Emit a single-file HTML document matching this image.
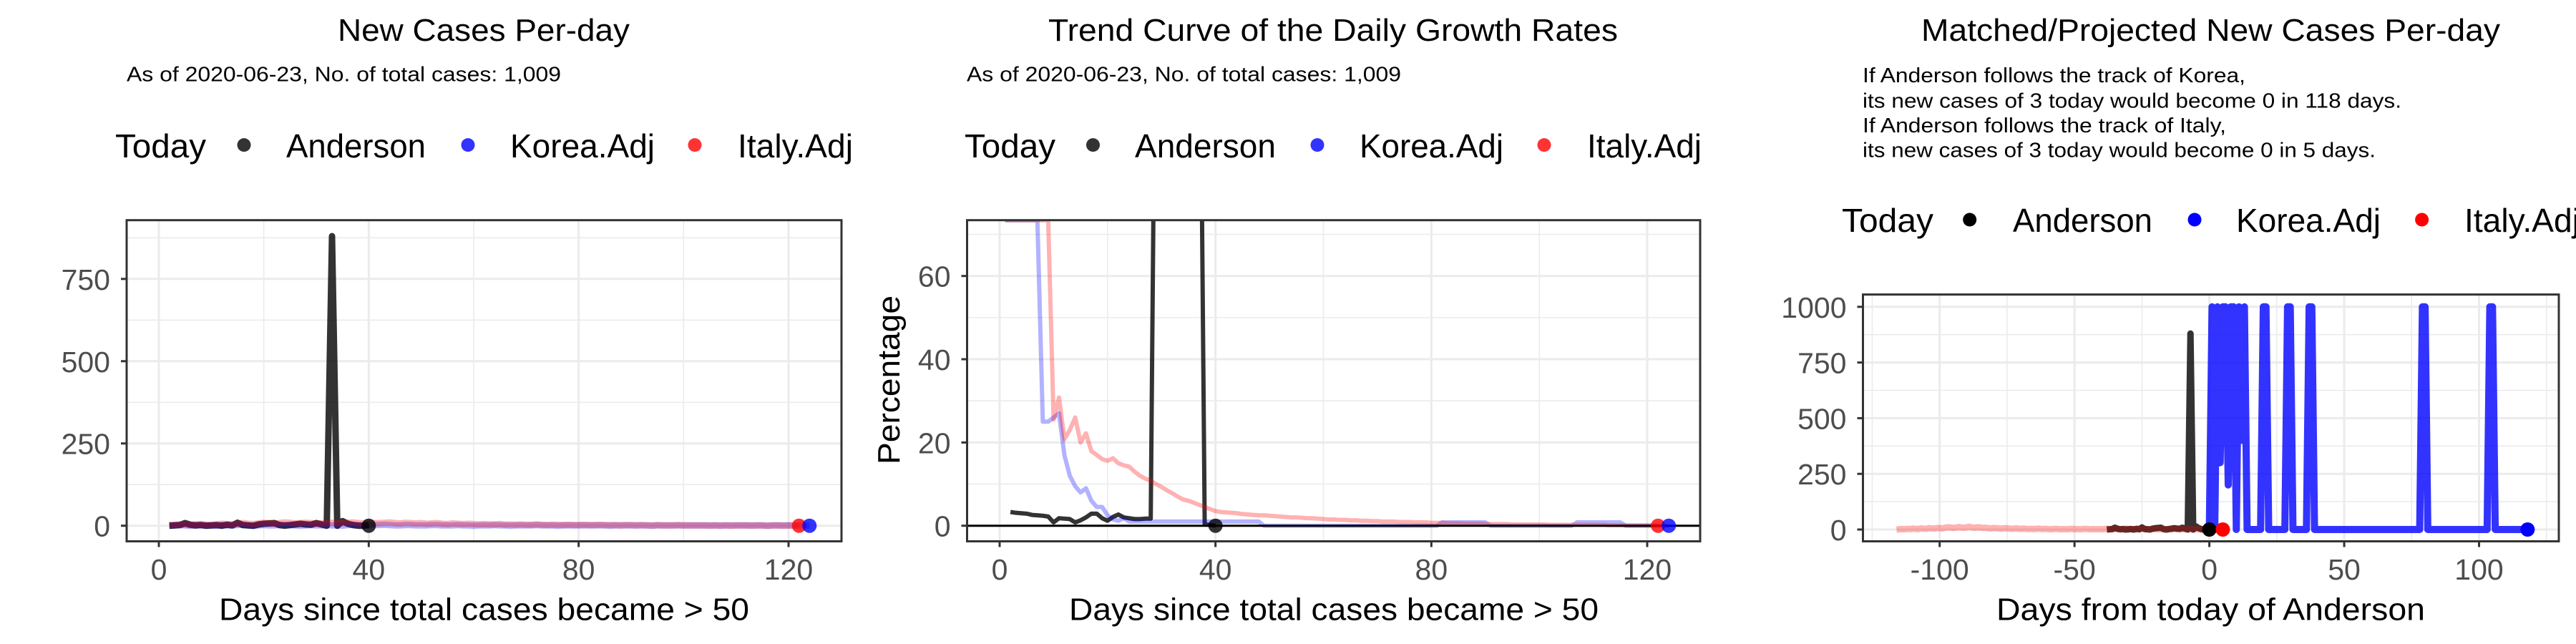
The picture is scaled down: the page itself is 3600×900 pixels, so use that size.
<!DOCTYPE html>
<html><head><meta charset="utf-8"><style>
html,body{margin:0;padding:0;background:#fff;}
svg{display:block;font-family:"Liberation Sans",Arial,sans-serif;}
</style></head><body>
<svg id="chart" width="3600" height="900" viewBox="0 0 3600 900" xmlns="http://www.w3.org/2000/svg">
<defs>
<clipPath id="clip1"><rect x="177" y="307.7" width="999" height="448.8"/></clipPath>
<clipPath id="clip2"><rect x="1351.5" y="307.7" width="1024.5" height="448.8"/></clipPath>
<clipPath id="clip3"><rect x="2603.5" y="411.6" width="972.5" height="344.9"/></clipPath>
</defs>
<rect x="0" y="0" width="3600" height="900" fill="#fff"/>

<g>
<text x="676" y="57" font-size="44" text-anchor="middle" textLength="408" lengthAdjust="spacingAndGlyphs">New Cases Per-day</text>
<text x="177" y="113.6" font-size="29" textLength="607" lengthAdjust="spacingAndGlyphs">As of 2020-06-23, No. of total cases: 1,009</text>
<g>
<text x="161" y="220" font-size="46" textLength="127" lengthAdjust="spacingAndGlyphs">Today</text>
<circle cx="341" cy="202.6" r="9.5" fill="rgba(0,0,0,0.8)"/>
<text x="400" y="220" font-size="46" textLength="195" lengthAdjust="spacingAndGlyphs">Anderson</text>
<circle cx="654" cy="202.6" r="9.5" fill="rgba(0,0,255,0.8)"/>
<text x="713" y="220" font-size="46" textLength="202" lengthAdjust="spacingAndGlyphs">Korea.Adj</text>
<circle cx="971" cy="202.6" r="9.5" fill="rgba(255,0,0,0.8)"/>
<text x="1031" y="220" font-size="46" textLength="161" lengthAdjust="spacingAndGlyphs">Italy.Adj</text>
</g>
<text x="676.5" y="866.7" font-size="44" text-anchor="middle" textLength="741" lengthAdjust="spacingAndGlyphs">Days since total cases became &gt; 50</text>
</g>

<g>
<text x="1863" y="57" font-size="44" text-anchor="middle" textLength="796" lengthAdjust="spacingAndGlyphs">Trend Curve of the Daily Growth Rates</text>
<text x="1351" y="113.6" font-size="29" textLength="607" lengthAdjust="spacingAndGlyphs">As of 2020-06-23, No. of total cases: 1,009</text>
<g>
<text x="1348" y="220" font-size="46" textLength="127" lengthAdjust="spacingAndGlyphs">Today</text>
<circle cx="1527.5" cy="202.6" r="9.5" fill="rgba(0,0,0,0.8)"/>
<text x="1586" y="220" font-size="46" textLength="197" lengthAdjust="spacingAndGlyphs">Anderson</text>
<circle cx="1841" cy="202.6" r="9.5" fill="rgba(0,0,255,0.8)"/>
<text x="1900" y="220" font-size="46" textLength="201" lengthAdjust="spacingAndGlyphs">Korea.Adj</text>
<circle cx="2158" cy="202.6" r="9.5" fill="rgba(255,0,0,0.8)"/>
<text x="2218" y="220" font-size="46" textLength="160" lengthAdjust="spacingAndGlyphs">Italy.Adj</text>
</g>
<text transform="translate(1257,531) rotate(-90)" font-size="44" text-anchor="middle" textLength="236" lengthAdjust="spacingAndGlyphs">Percentage</text>
<text x="1864" y="866.7" font-size="44" text-anchor="middle" textLength="740" lengthAdjust="spacingAndGlyphs">Days since total cases became &gt; 50</text>
</g>

<g>
<text x="3089.5" y="57" font-size="44" text-anchor="middle" textLength="809" lengthAdjust="spacingAndGlyphs">Matched/Projected New Cases Per-day</text>
<text x="2603" y="114.8" font-size="29" textLength="535" lengthAdjust="spacingAndGlyphs">If Anderson follows the track of Korea,</text>
<text x="2603" y="150.4" font-size="29" textLength="753" lengthAdjust="spacingAndGlyphs">its new cases of 3 today would become 0 in 118 days.</text>
<text x="2603" y="184.8" font-size="29" textLength="508" lengthAdjust="spacingAndGlyphs">If Anderson follows the track of Italy,</text>
<text x="2603" y="219.3" font-size="29" textLength="717" lengthAdjust="spacingAndGlyphs">its new cases of 3 today would become 0 in 5 days.</text>
<g>
<text x="2574" y="324" font-size="46" textLength="128" lengthAdjust="spacingAndGlyphs">Today</text>
<circle cx="2752.7" cy="307" r="9.5" fill="#000"/>
<text x="2813" y="324" font-size="46" textLength="195" lengthAdjust="spacingAndGlyphs">Anderson</text>
<circle cx="3067" cy="307" r="9.5" fill="#00f"/>
<text x="3125" y="324" font-size="46" textLength="202" lengthAdjust="spacingAndGlyphs">Korea.Adj</text>
<circle cx="3384.6" cy="307" r="9.5" fill="#f00"/>
<text x="3444" y="324" font-size="46" textLength="161" lengthAdjust="spacingAndGlyphs">Italy.Adj</text>
</g>
<text x="3089.5" y="866.7" font-size="44" text-anchor="middle" textLength="599" lengthAdjust="spacingAndGlyphs">Days from today of Anderson</text>
</g>
</svg>
<script>
// ---------- Panel 1 data: new cases per day ----------
const p1AndersonStartDay = 2;
const p1AndersonCases = [0,1,2,8,3,1,2,0,1,2,0,3,1,9,2,1,0,4,6,7,8,2,0,2,4,6,4,3,8,4,0,880,0,14,6,2,0,0,3];
const p1KoreaStartDay = 2;
const p1KoreaCases = [1,1,2,1,0,1,2,1,1,0,2,1,1,2,3,1,0,1,2,1,1,2,3,2,1,0,1,2,1,1,2,1,1,0,2,3,2,1,1,2,
 2,3,2,1,1,2,2,1,1,1,2,2,1,1,1,2,1,1,0,1,
 1,1,2,1,1,0,1,1,1,1,2,1,1,1,0,1,1,1,1,1,
 1,1,1,1,0,1,1,1,1,1,1,1,0,1,1,1,1,1,1,1,
 1,1,1,1,1,0,1,1,1,1,1,1,1,1,0,1,1,1,1,1,1,1,0];
const p1ItalyStartDay = 2;
const p1ItalyCases = [2,3,4,3,2,4,5,3,2,4,6,5,4,6,8,6,5,7,9,8,6,8,10,9,7,8,9,8,6,7,8,9,7,8,9,10,8,7,9,8,
 8,9,10,8,7,9,8,7,8,6,7,8,6,5,7,6,5,6,5,4,
 5,4,4,5,3,4,3,4,3,3,4,3,2,3,3,2,3,2,2,3,
 2,2,3,2,2,2,1,2,2,1,2,1,1,2,1,1,1,2,1,1,
 1,1,1,0,1,1,1,0,1,1,1,0,1,1,0,1,1,0,1,0,0];
const p1XTicks = [0,40,80,120];
const p1XMinor = [20,60,100];
const p1YTicks = [0,250,500,750];
const p1YMinor = [125,375,625,875];
const p1TodayDays = [40,122,124];

// ---------- Panel 2 data: daily growth rates (%) ----------
const p2AndersonStartDay = 2;
const p2AndersonRate = [3.3,3.1,3.0,2.9,2.6,2.5,2.4,2.2,0.8,1.8,1.7,1.6,0.8,1.3,2.0,2.9,2.9,1.8,1.2,2.1,2.7,2.0,1.8,1.6,1.6,1.7,1.7,
 150,150,150,150,150,150,150,150,150,0.3,0.2,0];
const p2KoreaStartDay = 1;
const p2KoreaRate = [100,100,100,100,100,100,100,25,25,26,27,17,12,9.5,8,9,6,4.5,4.5,2.5,1.5,1.2,1.8,1,
 1,1,1,1,1,1,1,1,1,1,1,1,1,1,1,1,1,1,1,1,1,1,1,1,
 0,0,0,0,0,0,0,0,0,0,0,0,0,0,0,0,0,0,0,0,0,0,0,0,0,0,0,0,0,0,0,0,0,
 0.8,0.8,0.8,0.8,0.8,0.8,0.8,0.8,0.8,
 0,0,0,0,0,0,0,0,0,0,0,0,0,0,0,0,
 0.8,0.8,0.8,0.8,0.8,0.8,0.8,0.8,0.8,
 0,0,0,0,0,0,0,0,0];
const p2ItalyStartDay = 1;
const p2ItalyRate = [100,100,100,100,100,100,100,100,100,
 25.5,30.8,20.8,23,26,20,22.2,17.9,17,16,15.6,16.2,15,14.5,14.2,13,12,11.3,10.8,10,9.3,8.5,7.8,7,6.3,6,5.5,5,4.5,4,3.5,
 3.3,3.2,3.1,3,2.8,2.7,2.6,2.5,2.5,2.4,2.3,2.2,2.1,2,2,1.9,1.8,1.8,1.7,1.6,
 1.5,1.5,1.4,1.4,1.3,1.3,1.2,1.2,1.1,1.1,
 1,1,1,0.9,0.9,0.9,0.8,0.8,0.8,0.7,
 0.7,0.7,0.6,0.6,0.6,0.5,0.5,0.5,0.5,0.4,
 0.4,0.4,0.4,0.4,0.3,0.3,0.3,0.3,0.3,0.3,
 0.3,0.2,0.2,0.2,0.2,0.2,0.2,0.2,0.2,0.2,
 0.2,0.2,0.1,0.1,0.1,0.1,0.1,0.1,0.1,0.1,0.1,0.1];
const p2XTicks = [0,40,80,120];
const p2XMinor = [20,60,100];
const p2YTicks = [0,20,40,60];
const p2YMinor = [10,30,50,70];
const p2TodayDays = [40,122,124];

// ---------- Panel 3 data: matched / projected ----------
const p3AndersonOffset = -40;
const p3ItalyStartDay = -116;
const p3ItalyCases = [0,1,2,1,3,2,4,3,2,5,4,3,6,5,4,7,6,5,8,10,9,7,8,11,9,8,10,12,9,8,
 10,9,7,8,6,5,7,6,5,4,6,5,4,3,5,4,3,4,3,2,
 3,2,3,4,2,3,2,1,2,3,2,1,2,1,2,3,1,2,1,2,
 3,2,1,2,1,2,1,2,
 3,2,1,2,3,1,2,4,3,2,1,3,2,4,3,2,1,3,2,1,
 2,3,1,2,1,3,2,1,2,1,2,1,1,2,1,0,1,1,0,
 1,0,1,0,0];
const p3KoreaStartDay = 0;
const p3KoreaCases = [0,1000,0,1000,300,1000,1000,200,1000,1000,
 0,1000,400,1000,0,0,0,0,0,0,
 1000,1000,0,0,0,0,0,0,0,1000,
 1000,0,0,0,0,0,0,1000,1000,0,
 0,0,0,0,0,0,0,0,0,0,
 0,0,0,0,0,0,0,0,0,0,
 0,0,0,0,0,0,0,0,0,0,
 0,0,0,0,0,0,0,0,0,1000,
 1000,0,0,0,0,0,0,0,0,0,
 0,0,0,0,0,0,0,0,0,0,
 0,0,0,0,1000,1000,0,0,0,0,
 0,0,0,0,0,0,0,0,0];
const p3XTicks = [-100,-50,0,50,100];
const p3XMinor = [-125,-75,-25,25,75,125];
const p3YTicks = [0,250,500,750,1000];
const p3YMinor = [125,375,625,875];
const p3TodayDays = [0,5,118];

// ---------- helpers ----------
const NS = 'http://www.w3.org/2000/svg';
const svg = document.getElementById('chart');
function lin(d0, d1, r0, r1) { return v => r0 + (v - d0) * (r1 - r0) / (d1 - d0); }
function mk(tag, attrs, parent) {
  const e = document.createElementNS(NS, tag);
  for (const k in attrs) e.setAttribute(k, attrs[k]);
  (parent || svg).appendChild(e);
  return e;
}

function drawFrame(P, name) {
  const g = mk('g', {});
  
  
  P.yMinor.forEach(v => {
    const y = P.sy(v);
    if (y < P.top || y > P.bottom) return;
    const l = mk('line', {x1: P.left, x2: P.right, y1: y, y2: y, stroke: '#ebebeb', 'stroke-width': 1.6}, g);
    
    
  });
  P.xMinor.forEach(v => {
    const x = P.sx(v);
    if (x < P.left || x > P.right) return;
    const l = mk('line', {x1: x, x2: x, y1: P.top, y2: P.bottom, stroke: '#ebebeb', 'stroke-width': 1.6}, g);
    
    
  });
  P.yTicks.forEach(v => {
    const y = P.sy(v);
    const l = mk('line', {x1: P.left, x2: P.right, y1: y, y2: y, stroke: '#ebebeb', 'stroke-width': 3}, g);
    
    
    const t = mk('line', {x1: P.left - 8, x2: P.left, y1: y, y2: y, stroke: '#333', 'stroke-width': 3}, g);
    
    
    const lb = mk('text', {x: P.left - 23, y: y + 15, 'font-size': 41, fill: '#4d4d4d', 'text-anchor': 'end'}, g);
    
    
    lb.textContent = String(v);
  });
  P.xTicks.forEach(v => {
    const x = P.sx(v);
    const l = mk('line', {x1: x, x2: x, y1: P.top, y2: P.bottom, stroke: '#ebebeb', 'stroke-width': 3}, g);
    
    
    const t = mk('line', {x1: x, x2: x, y1: P.bottom, y2: P.bottom + 8, stroke: '#333', 'stroke-width': 3}, g);
    
    
    const lb = mk('text', {x: x, y: 810, 'font-size': 41, fill: '#4d4d4d', 'text-anchor': 'middle'}, g);
    
    
    lb.textContent = String(v);
  });
}
function drawBorder(P, name) {
  const b = mk('rect', {x: P.left, y: P.top, width: P.right - P.left, height: P.bottom - P.top, fill: 'none', stroke: '#333', 'stroke-width': 3});
  
  
}
function drawLine(P, startDay, values, color, width, name, noClamp) {
  const hi = noClamp ? 1e9 : P.ymax;
  const pts = values.map((v, i) => {
    const c = Math.max(P.ymin, Math.min(hi, v));
    return P.sx(startDay + i).toFixed(2) + ',' + P.sy(c).toFixed(2);
  }).join(' ');
  const pl = mk('polyline', {points: pts, fill: 'none', stroke: color, 'stroke-width': width, 'stroke-linejoin': 'round', 'clip-path': 'url(#' + P.clip + ')'});
  
  
}
function valueAt(startDay, values, day) {
  const i = day - startDay;
  return (i >= 0 && i < values.length) ? values[i] : 0;
}
function drawDot(P, day, val, color, name) {
  const c = mk('circle', {cx: P.sx(day), cy: P.sy(Math.max(P.ymin, Math.min(P.ymax, val))), r: 10, fill: color});
  
  
}

// ---------- Panel 1 ----------
const P1 = {left: 177, right: 1176, top: 307.7, bottom: 756.5, clip: 'clip1',
  xTicks: p1XTicks, xMinor: p1XMinor, yTicks: p1YTicks, yMinor: p1YMinor};
P1.sx = lin(0, 120, 222, 1102);
P1.sy = lin(0, 750, 734.7, 389.8);
P1.ymax = 935; P1.ymin = -50;
drawFrame(P1, 'panel1');
drawLine(P1, p1AndersonStartDay, p1AndersonCases, 'rgba(0,0,0,0.8)', 9, 'line-anderson-cases');
drawLine(P1, p1KoreaStartDay, p1KoreaCases, 'rgba(0,0,255,0.3)', 9, 'line-korea-cases');
drawLine(P1, p1ItalyStartDay, p1ItalyCases, 'rgba(255,0,0,0.3)', 9, 'line-italy-cases');
drawDot(P1, p1TodayDays[0], 0, 'rgba(0,0,0,0.8)', 'today-point-anderson');
drawDot(P1, p1TodayDays[1], 0, 'rgba(255,0,0,0.8)', 'today-point-italy');
drawDot(P1, p1TodayDays[2], 0, 'rgba(0,0,255,0.8)', 'today-point-korea');
drawBorder(P1, 'panel1');

// ---------- Panel 2 ----------
const P2 = {left: 1351.5, right: 2376, top: 307.7, bottom: 756.5, clip: 'clip2',
  xTicks: p2XTicks, xMinor: p2XMinor, yTicks: p2YTicks, yMinor: p2YMinor};
P2.sx = lin(0, 120, 1397, 2302);
P2.sy = lin(0, 60, 734.7, 385.7);
P2.ymax = 73.4; P2.ymin = -4;
drawFrame(P2, 'panel2');
drawLine(P2, p2AndersonStartDay, p2AndersonRate, 'rgba(0,0,0,0.8)', 6, 'line-anderson-growth', true);
drawLine(P2, p2KoreaStartDay, p2KoreaRate, 'rgba(0,0,255,0.3)', 6, 'line-korea-growth');
drawLine(P2, p2ItalyStartDay, p2ItalyRate, 'rgba(255,0,0,0.3)', 6, 'line-italy-growth');
const zl = mk('line', {x1: P2.left, x2: P2.right, y1: P2.sy(0), y2: P2.sy(0), stroke: '#000', 'stroke-width': 3});


drawDot(P2, p2TodayDays[0], valueAt(p2AndersonStartDay, p2AndersonRate, p2TodayDays[0]), 'rgba(0,0,0,0.8)', 'today-point-anderson-2');
drawDot(P2, p2TodayDays[1], 0, 'rgba(255,0,0,0.8)', 'today-point-italy-2');
drawDot(P2, p2TodayDays[2], valueAt(p2KoreaStartDay, p2KoreaRate, p2TodayDays[2]), 'rgba(0,0,255,0.8)', 'today-point-korea-2');
drawBorder(P2, 'panel2');

// ---------- Panel 3 ----------
const P3 = {left: 2603.5, right: 3576, top: 411.6, bottom: 756.5, clip: 'clip3',
  xTicks: p3XTicks, xMinor: p3XMinor, yTicks: p3YTicks, yMinor: p3YMinor};
P3.sx = lin(-100, 100, 2710.7, 3464.5);
P3.sy = lin(0, 1000, 740, 428.8);
P3.ymax = 1000; P3.ymin = -50;
drawFrame(P3, 'panel3');
drawLine(P3, p1AndersonStartDay + p3AndersonOffset, p1AndersonCases, 'rgba(0,0,0,0.8)', 9, 'line-anderson-matched');
drawLine(P3, p3ItalyStartDay, p3ItalyCases, 'rgba(255,0,0,0.3)', 9, 'line-italy-projected');
drawLine(P3, p3KoreaStartDay, p3KoreaCases, 'rgba(0,0,255,0.8)', 10, 'line-korea-projected');
drawDot(P3, p3TodayDays[0], 0, '#000', 'today-point-anderson-3');
drawDot(P3, p3TodayDays[1], 0, '#f00', 'today-point-italy-3');
drawDot(P3, p3TodayDays[2], valueAt(p3KoreaStartDay, p3KoreaCases, p3TodayDays[2]), '#00f', 'today-point-korea-3');
drawBorder(P3, 'panel3');
</script>
</body></html>
